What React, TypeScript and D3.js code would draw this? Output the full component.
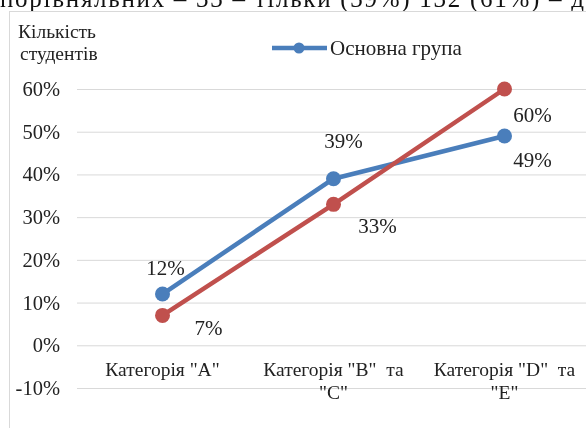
import React, { useEffect, useRef } from 'react';
import * as d3 from 'd3';

const categories = ['A', 'BC', 'DE'];
const categoryLines = [['Категорія "A"'], ['Категорія "B"  та', '"C"'], ['Категорія "D"  та', '"E"']];
const mainGroup = [12, 39, 49];
const controlGroup = [7, 33, 60];
const yTicks = [-10, 0, 10, 20, 30, 40, 50, 60];

const BLUE = '#4a7ebb';
const RED = '#c0504d';
const FONT = '"Liberation Serif", "Times New Roman", serif';
const INK = '#222';

export default function App() {
  const svgRef = useRef<SVGSVGElement>(null);

  useEffect(() => {
    if (!svgRef.current) return;
    const svg = d3.select(svgRef.current);
    svg.selectAll('*').remove();

    const width = 586;
    const height = 428;

    svg.append('rect').attr('width', width).attr('height', height).attr('fill', '#fff');

    // line of the surrounding document, cut off by the crop
    svg.append('text')
      .attr('x', 0).attr('y', 7)
      .attr('textLength', 584).attr('lengthAdjust', 'spacing')
      .attr('font-family', FONT).attr('font-size', 25).attr('fill', '#111')
      .text('порівняльних – 33 – тільки (39%) 132 (61%) – д');

    // chart frame
    svg.append('rect')
      .attr('x', 9.5).attr('y', 11.5).attr('width', 600).attr('height', 440)
      .attr('fill', '#fff').attr('stroke', '#d9d9d9');

    const x = d3.scaleBand().domain(categories).range([77, 590]);
    const y = d3.scaleLinear().domain([-10, 60]).range([388, 89]);
    const cx = (c: string) => (x(c) ?? 0) + x.bandwidth() / 2;

    // grid
    svg.append('g').selectAll('line').data(yTicks).join('line')
      .attr('x1', 77).attr('x2', 590)
      .attr('y1', d => y(d) + 0.5).attr('y2', d => y(d) + 0.5)
      .attr('stroke', '#d9d9d9').attr('stroke-width', 1);

    // y tick labels
    svg.append('g').selectAll('text').data(yTicks).join('text')
      .attr('x', 60).attr('y', d => y(d) + 7)
      .attr('text-anchor', 'end')
      .attr('font-family', FONT).attr('font-size', 20.5).attr('fill', INK)
      .text(d => `${d}%`);

    // y title
    svg.append('text').attr('x', 18).attr('y', 38)
      .attr('font-family', FONT).attr('font-size', 19.5).attr('fill', INK).text('Кількість');
    svg.append('text').attr('x', 20).attr('y', 60)
      .attr('font-family', FONT).attr('font-size', 19.5).attr('fill', INK).text('студентів');

    // category labels
    categories.forEach((c, i) => {
      const t = svg.append('text')
        .attr('text-anchor', 'middle')
        .style('white-space', 'pre')
        .attr('font-family', FONT).attr('font-size', 19.5).attr('fill', INK);
      categoryLines[i].forEach((ln, j) => {
        t.append('tspan').attr('x', cx(c)).attr('y', 376 + j * 23).text(ln);
      });
    });

    const line = d3.line<number>().x((_, i) => cx(categories[i])).y(d => y(d));

    const drawSeries = (vals: number[], color: string) => {
      svg.append('path').datum(vals)
        .attr('fill', 'none').attr('stroke', color).attr('stroke-width', 4.5)
        .attr('stroke-linejoin', 'round').attr('d', line);
      svg.append('g').selectAll('circle').data(vals).join('circle')
        .attr('cx', (_, i) => cx(categories[i])).attr('cy', d => y(d))
        .attr('r', 7.5).attr('fill', color);
    };
    drawSeries(mainGroup, BLUE);
    drawSeries(controlGroup, RED);

    // data labels: [dx, dy] offsets of the label baseline from the point
    const blueOffsets = [[3, -19], [10, -31], [28, 31]];
    const redOffsets = [[46, 20], [44, 29], [28, 33]];
    const addLabels = (vals: number[], offs: number[][]) => {
      svg.append('g').selectAll('text').data(vals).join('text')
        .attr('x', (_, i) => cx(categories[i]) + offs[i][0])
        .attr('y', (d, i) => y(d) + offs[i][1])
        .attr('text-anchor', 'middle')
        .attr('font-family', FONT).attr('font-size', 21).attr('fill', INK)
        .text(d => `${d}%`);
    };
    addLabels(mainGroup, blueOffsets);
    addLabels(controlGroup, redOffsets);

    // legend
    const lg = svg.append('g');
    lg.append('line').attr('x1', 272).attr('x2', 327).attr('y1', 48).attr('y2', 48)
      .attr('stroke', BLUE).attr('stroke-width', 4.5);
    lg.append('circle').attr('cx', 299).attr('cy', 48).attr('r', 5.5).attr('fill', BLUE);
    lg.append('text').attr('x', 330).attr('y', 55)
      .attr('font-family', FONT).attr('font-size', 21).attr('fill', INK).text('Основна група');
  }, []);

  return (
    <svg ref={svgRef} width={586} height={428}
      style={{ position: 'fixed', left: 0, top: 0, display: 'block' }} />
  );
}
